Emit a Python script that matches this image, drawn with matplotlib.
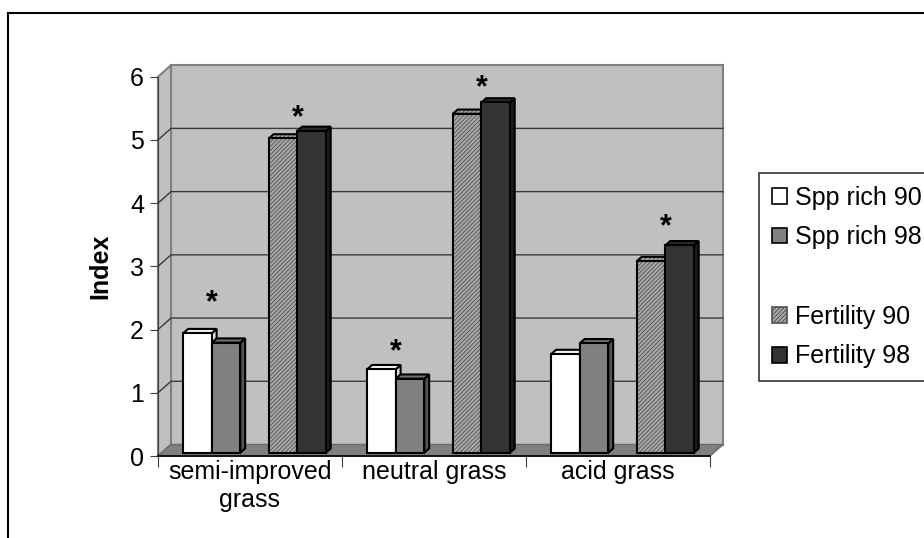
import matplotlib
matplotlib.use('Agg')
import matplotlib.pyplot as plt
from matplotlib.patches import Polygon, Patch
from matplotlib.lines import Line2D

plt.rcParams['font.family'] = ['Liberation Sans', 'DejaVu Sans']
plt.rcParams['hatch.linewidth'] = 0.7

categories = ['semi-improved\ngrass', 'neutral grass', 'acid grass']
spp_rich_90 = [1.89, 1.32, 1.56]
spp_rich_98 = [1.74, 1.17, 1.73]
fertility_90 = [4.97, 5.36, 3.03]
fertility_98 = [5.09, 5.54, 3.28]
# heights of the significance asterisks (None = not significant)
spp_star = [2.41, 1.64, None]
fert_star = [5.34, 5.82, 3.62]
yticks = [0, 1, 2, 3, 4, 5, 6]

FS = 18
W, H = 924, 538
fig = plt.figure(figsize=(W / 100, H / 100), dpi=100)
ax = fig.add_axes([158 / W, (H - 456) / H, 552 / W, (456 - 76.7) / H])
ax.set_xlim(0, 3)
ax.set_ylim(0, 6)
ax.set_facecolor('none')

# pixel -> data units
sx = 3 / 552
sy = 6 / (456 - 76.7)
dx, dy = 13 * sx, 11.5 * sy          # depth of the box
fx, fy = 0.29 * dx, 0.29 * dy        # where the bars stand inside the box
bdx, bdy = 0.37 * dx, 0.37 * dy      # bar depth

# walls and floor
wall, wall_edge = '#c0c0c0', '#808080'
ax.add_patch(Polygon([(dx, dy), (3 + dx, dy), (3 + dx, 6 + dy), (dx, 6 + dy)],
                     fc=wall, ec=wall_edge, lw=1.5, clip_on=False, zorder=0))
ax.add_patch(Polygon([(0, 0), (dx, dy), (dx, 6 + dy), (0, 6)],
                     fc=wall, ec=wall_edge, lw=1.5, clip_on=False, zorder=0))
ax.add_patch(Polygon([(0, 0), (3, 0), (3 + dx, dy), (dx, dy)],
                     fc='#808080', ec='#6a6a6a', lw=1, clip_on=False, zorder=1))
for v in yticks[1:-1]:
    ax.plot([0, dx, 3 + dx], [v, v + dy, v + dy], color='#3a3a3a', lw=1,
            clip_on=False, zorder=1)


def bar3d(x0, h, face, top, side, hatch=None, hatch_color=None):
    w = 0.155
    x0 = x0 + fx
    y0, y1 = fy, fy + h
    front = [(x0, y0), (x0 + w, y0), (x0 + w, y1), (x0, y1)]
    lid = [(x0, y1), (x0 + w, y1), (x0 + w + bdx, y1 + bdy), (x0 + bdx, y1 + bdy)]
    rside = [(x0 + w, y0), (x0 + w + bdx, y0 + bdy), (x0 + w + bdx, y1 + bdy), (x0 + w, y1)]
    for pts, c in ((rside, side), (lid, top), (front, face)):
        if hatch:
            ax.add_patch(Polygon(pts, fc=c, ec=hatch_color, lw=0, hatch=hatch,
                                 clip_on=False, zorder=3))
            ax.add_patch(Polygon(pts, fc='none', ec='black', lw=1.5,
                                 joinstyle='miter', clip_on=False, zorder=3))
        else:
            ax.add_patch(Polygon(pts, fc=c, ec='black', lw=1.5,
                                 joinstyle='miter', clip_on=False, zorder=3))
    return x0 + w


def star(x, y):
    if y is not None:
        ax.text(x, y, '*', ha='center', va='center', fontsize=22,
                fontweight='bold', zorder=4)


offsets = [0.117, 0.272, 0.582, 0.737]
for i in range(len(categories)):
    right = bar3d(i + offsets[0], spp_rich_90[i], '#ffffff', '#f2f2f2', '#dcdcdc')
    bar3d(i + offsets[1], spp_rich_98[i], '#808080', '#707070', '#555555')
    star(right, spp_star[i])
    right = bar3d(i + offsets[2], fertility_90[i], '#aaaaaa', '#aaaaaa', '#999999',
                  hatch='////////', hatch_color='#5a5a5a')
    bar3d(i + offsets[3], fertility_98[i], '#333333', '#2a2a2a', '#1a1a1a')
    star(right, fert_star[i])

# axes
for s in ('top', 'right'):
    ax.spines[s].set_visible(False)
ax.spines['left'].set_color('#404040')
ax.spines['bottom'].set_color('black')
ax.spines['bottom'].set_linewidth(1.2)
ax.set_yticks(yticks)
ax.set_yticklabels([str(v) for v in yticks])
ax.tick_params(axis='y', length=6, color='#404040', labelsize=FS, pad=4)
ax.set_xticks([0, 1, 2, 3])
ax.set_xticklabels([])
ax.tick_params(axis='x', which='major', length=8, color='#404040')
ax.set_xticks([0.5, 1.5, 2.5], minor=True)
ax.set_xticklabels(categories, minor=True)
ax.tick_params(axis='x', which='minor', length=0, labelsize=FS, pad=3)
ax.set_ylabel('Index', fontsize=FS, fontweight='bold')
ax.yaxis.set_label_coords(-0.082, 0.5)

# legend
handles = [
    Patch(fc='white', ec='black', lw=1.2),
    Patch(fc='#808080', ec='black', lw=1.2),
    Patch(fc='none', ec='none'),
    Patch(fc='#aaaaaa', ec='#505050', hatch='////////', lw=1.2),
    Patch(fc='#333333', ec='black', lw=1.2),
]
labels = ['Spp rich 90', 'Spp rich 98', ' ', 'Fertility 90', 'Fertility 98']
leg = fig.legend(handles, labels, loc='upper left',
                 bbox_to_anchor=(759 / W, 1 - 173 / H), bbox_transform=fig.transFigure,
                 frameon=True, fancybox=False, edgecolor='black', fontsize=FS,
                 handlelength=0.6, handleheight=0.6, handletextpad=0.35,
                 labelspacing=0.63, borderpad=0.5, borderaxespad=0)
leg.get_frame().set_linewidth(1.2)

# chart border
fig.add_artist(Line2D([8 / W, 1], [1 - 13 / H, 1 - 13 / H], transform=fig.transFigure,
                      color='black', lw=1.5))
fig.add_artist(Line2D([8 / W, 8 / W], [0, 1 - 13 / H], transform=fig.transFigure,
                      color='black', lw=1.5))

fig.savefig('out.png', dpi=100)
